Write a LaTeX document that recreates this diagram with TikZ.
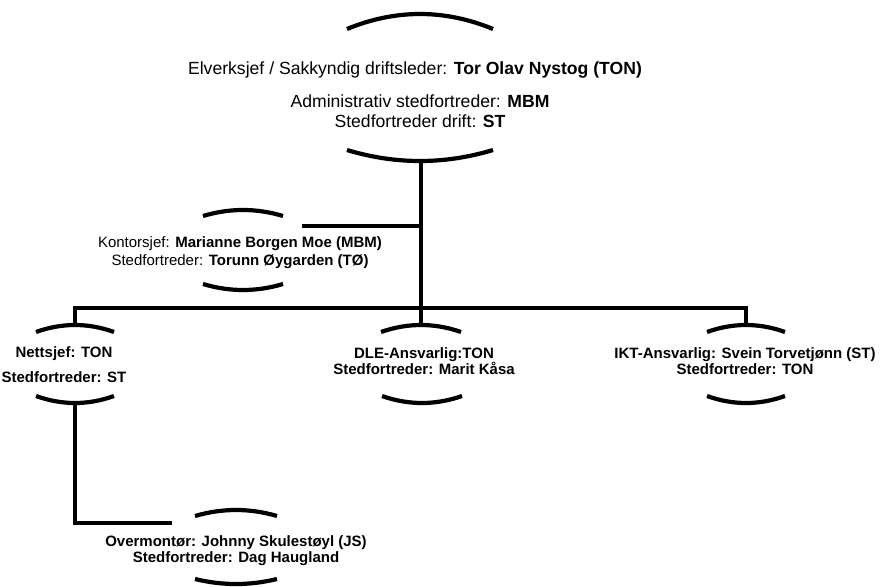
\documentclass[tikz,border=0pt]{standalone}
\usepackage{fontspec}
\setmainfont{Liberation Sans}
\newcommand\uparc[4]{\draw[arcline] (#1-#3,#2) .. controls (#1-#3/3,#2-#4*4/3) and (#1+#3/3,#2-#4*4/3) .. (#1+#3,#2);}
\newcommand\downarc[4]{\draw[arcline] (#1-#3,#2) .. controls (#1-#3/3,#2+#4*4/3) and (#1+#3/3,#2+#4*4/3) .. (#1+#3,#2);}
\begin{document}
\begin{tikzpicture}[x=1pt,y=-1pt,
  arcline/.style={line width=4.2pt},
  conn/.style={line width=4pt},
  big/.style={align=center,inner sep=0pt,font=\fontsize{17.6}{20}\selectfont},
  small/.style={align=center,inner sep=0pt,font=\fontsize{15}{#1}\selectfont\bfseries}]
\useasboundingbox (0,0) rectangle (882,586);
% top unit
\node[big] (topA) at (415,70) {Elverksjef / Sakkyndig driftsleder: \textbf{Tor Olav Nystog (TON)}};
\node[big] (topB) at (420,111) {Administrativ stedfortreder: \textbf{MBM}\\Stedfortreder drift: \textbf{ST}};
\uparc{420}{29}{73}{15}
\downarc{420}{150}{73}{11}
\coordinate (topBot) at (421,161);
% Kontorsjef
\node[small=18,font=\fontsize{15}{18}\selectfont] (kont) at (240,253) {Kontorsjef: \textbf{Marianne Borgen Moe (MBM)}\\Stedfortreder: \textbf{Torunn Øygarden (TØ)}};
\uparc{243}{216}{40}{6}
\downarc{243}{284}{40}{6}
\coordinate (kontR) at (302,226);
% Nettsjef
\node[small=25] (nett) at (64,364.5) {Nettsjef: TON\\Stedfortreder: ST};
\uparc{75}{332}{39}{7}
\downarc{75}{396}{39}{7}
\coordinate (nettTop) at (75,325);
\coordinate (nettBot) at (75,403);
% DLE
\node[small=16] (dle) at (424,361) {DLE-Ansvarlig:TON\\Stedfortreder: Marit Kåsa};
\uparc{421}{332}{40}{7}
\downarc{422}{396}{40}{7}
\coordinate (dleTop) at (421,325);
% IKT
\node[small=16] (ikt) at (745,361) {IKT-Ansvarlig: Svein Torvetjønn (ST)\\Stedfortreder: TON};
\uparc{746}{332}{39}{7}
\downarc{746}{396}{39}{7}
\coordinate (iktTop) at (746,325);
% Overmontor
\node[small=15.5] (over) at (236,550.5) {Overmontør: Johnny Skulestøyl (JS)\\Stedfortreder: Dag Haugland};
\uparc{236}{516}{41}{6}
\downarc{236}{579}{41}{5}
\coordinate (overL) at (172,523);
% connectors
\draw[conn] (topBot) -- (dleTop);
\draw[conn] (kontR) -- (kontR -| topBot);
\draw[conn] (nettTop) -- ++(0,-17) -| (iktTop);
\draw[conn] (nettBot) |- (overL);
\end{tikzpicture}
\end{document}
